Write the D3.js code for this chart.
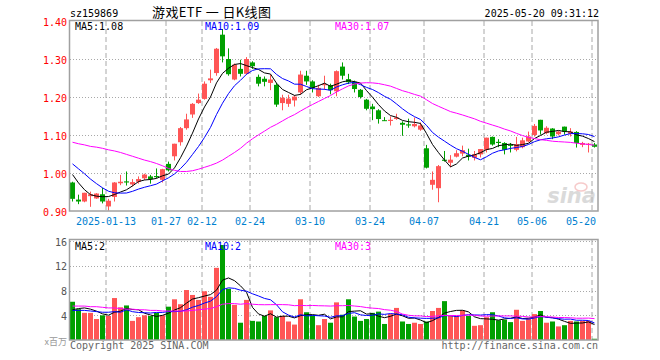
<!DOCTYPE html>
<html><head><meta charset="utf-8">
<script src="https://cdn.jsdelivr.net/npm/d3@7"></script>
<style>
body{margin:0;background:#fff}
svg{display:block}
text{font-family:"DejaVu Sans Mono",monospace;font-size:10px}
</style>
</head><body><svg id="c" width="660" height="360"></svg>
<script>
const dates = ["01-03","01-06","01-07","01-08","01-09","01-10","01-13","01-14","01-15","01-16","01-17","01-20","01-21","01-22","01-23","01-24","01-27",
"02-05","02-06","02-07","02-10","02-11","02-12","02-13","02-14","02-17","02-18","02-19","02-20","02-21","02-24","02-25","02-26","02-27","02-28",
"03-03","03-04","03-05","03-06","03-07","03-10","03-11","03-12","03-13","03-14","03-17","03-18","03-19","03-20","03-21","03-24","03-25","03-26","03-27","03-28","03-31",
"04-01","04-02","04-03","04-07","04-08","04-09","04-10","04-11","04-14","04-15","04-16","04-17","04-18","04-21","04-22","04-23","04-24","04-25","04-28","04-29","04-30",
"05-06","05-07","05-08","05-09","05-12","05-13","05-14","05-15","05-16","05-19","05-20"];

const open  = [.975,.930,.925,.939,.933,.944,.912,.937,.973,.978,.970,.977,.986,.991,.992,.982,1.024,
1.044,1.081,1.118,1.154,1.184,1.195,1.244,1.263,1.364,1.300,1.246,1.274,1.261,1.291,1.253,1.248,1.237,1.232,
1.184,1.182,1.191,1.212,1.256,1.241,1.202,1.231,1.231,1.215,1.280,1.247,1.240,1.219,1.193,1.175,1.165,1.139,1.137,1.142,1.132,
1.128,1.123,1.114,1.065,.969,.960,1.035,1.027,1.043,1.051,1.048,1.040,1.049,1.061,1.095,1.082,1.079,1.074,1.061,1.068,1.083,
1.100,1.140,1.105,1.117,1.102,1.122,1.103,1.108,1.074,1.075,1.075];
const high  = [.977,.943,.948,.951,.947,.961,.932,.976,.995,1.004,.984,.991,.998,.995,1.012,1.011,1.030,
1.077,1.121,1.156,1.184,1.209,1.241,1.272,1.329,1.379,1.328,1.288,1.298,1.305,1.294,1.259,1.254,1.259,1.237,
1.206,1.206,1.205,1.269,1.269,1.244,1.232,1.256,1.235,1.270,1.291,1.261,1.243,1.221,1.195,1.182,1.168,1.147,1.149,1.156,1.136,
1.143,1.146,1.133,1.074,1.004,1.021,1.058,1.047,1.060,1.072,1.064,1.058,1.063,1.093,1.096,1.089,1.081,1.079,1.095,1.093,1.109,
1.129,1.140,1.123,1.118,1.111,1.122,1.118,1.110,1.082,1.079,1.079];
const low   = [.925,.918,.923,.911,.932,.920,.901,.925,.968,.967,.965,.972,.982,.972,.986,.975,1.004,
1.033,1.072,1.114,1.145,1.182,1.193,1.237,1.256,1.291,1.256,1.244,1.254,1.259,1.274,1.228,1.228,1.218,1.174,
1.165,1.174,1.175,1.206,1.232,1.212,1.200,1.219,1.207,1.202,1.246,1.234,1.212,1.196,1.165,1.139,1.130,1.137,1.125,1.140,1.098,
1.119,1.120,1.111,1.012,.956,.923,1.030,1.015,1.041,1.044,1.033,1.033,1.041,1.054,1.072,1.068,1.049,1.054,1.057,1.065,1.081,
1.096,1.101,1.102,1.089,1.099,1.101,1.096,1.067,1.068,1.054,1.067];
const close = [.932,.925,.948,.944,.946,.925,.927,.975,.977,.975,.976,.984,.996,.984,.989,1.010,1.007,
1.077,1.118,1.141,1.182,1.193,1.235,1.249,1.327,1.307,1.260,1.285,1.261,1.300,1.281,1.235,1.240,1.246,1.180,
1.198,1.196,1.201,1.259,1.241,1.224,1.224,1.234,1.218,1.268,1.256,1.239,1.221,1.200,1.169,1.168,1.142,1.137,1.140,1.146,1.127,
1.125,1.129,1.125,1.014,.982,1.018,1.032,1.035,1.052,1.060,1.043,1.049,1.063,1.093,1.075,1.079,1.061,1.072,1.076,1.086,1.096,
1.124,1.112,1.119,1.096,1.109,1.109,1.109,1.079,1.079,1.077,1.069];
const volume = [6.2,5.0,4.4,4.4,3.4,4.0,3.9,6.8,5.3,5.6,3.1,3.7,4.0,3.9,4.4,4.0,5.4,
6.6,5.8,8.1,7.3,6.5,7.9,7.0,11.7,15.4,8.3,5.7,2.8,6.5,3.1,3.0,3.9,4.8,3.7,
3.9,3.0,2.5,6.6,4.5,4.0,2.4,3.4,2.8,6.1,4.1,6.6,3.8,3.1,3.4,4.4,4.6,2.6,4.2,5.2,3.0,
2.6,2.8,2.6,3.0,4.7,5.2,6.3,3.9,3.9,4.8,3.9,2.3,2.4,3.7,4.5,3.2,3.3,2.9,4.9,3.1,3.5,
4.2,4.7,2.8,3.0,2.2,2.4,3.1,3.0,3.1,3.1,0.2];

// moving-average values for the first days (earlier history is not shown)
const ma5Head  = [.996,.974,.956,.943];
const ma10Head = [1.024,1.011,.998,.984,.972,.961,.952,.948,.947];
const ma30Head = [1.081,1.077,1.074,1.070,1.068,1.065,1.061,1.058,1.054,1.049,1.044,1.039,1.034,1.030,1.025,1.019,1.012,1.007,1.004,1.004,1.006,1.010,1.015,1.020,1.026,1.034,1.044,1.054,1.065];
const vma5Head  = [4.9,5.1,5.2,5.0];
const vma10Head = [4.8,4.8,4.8,4.7,4.6,4.5,4.5,4.6,4.5];
const vma30Head = [5.5,5.5,5.5,5.4,5.4,5.3,5.2,5.2,5.1,5.0,5.0,4.9,4.9,4.8,4.8,4.7,4.7,4.7,4.7,4.7,4.8,4.9,5.0,5.1,5.4,5.8,5.9,5.9,5.8];

const tickDates  = ["01-13","01-27","02-12","02-24","03-10","03-24","04-07","04-21","05-06","05-20"];
const tickLabels = ["2025-01-13","01-27","02-12","02-24","03-10","03-24","04-07","04-21","05-06","05-20"];
const priceTicks = [0.90,1.00,1.10,1.20,1.30,1.40];
const volTicks   = [4,8,12,16];
const legendMain = ["MA5:1.08","MA10:1.09","MA30:1.07"];
const legendVol  = ["MA5:2","MA10:2","MA30:3"];
const code = "sz159869", title = "游戏ETF 一 日K线图", stamp = "2025-05-20 09:31:12";

const RED = "#ff5555", GREEN = "#00a000", GRID = "#a8a8a8", LINEC = ["#000000","#0000ff","#ff00ff"];
const L = 70, R = 598, PT = 21, PB = 211, VT = 240, VB = 340;

const svg = d3.select("#c");
const x = d3.scaleBand().domain(dates).range([L - 0.5, L - 0.5 + dates.length * 6]).padding(0);
const y = d3.scaleLinear().domain([0.9, 1.4]).range([PB, PT]);
const vy = d3.scaleLinear().domain([0, 16]).range([VB, 241.3]);
const cx = d => x(d) + 3;

function ma(vals, n, head) {
  return vals.map((v, i) => i >= n - 1 ? d3.mean(vals.slice(i - n + 1, i + 1)) : head[i]);
}

// header
svg.append("text").attr("x", 70).attr("y", 17).attr("fill", "#000").text(code);
svg.append("text").attr("x", 152).attr("y", 17).attr("fill", "#000")
  .style("font-family", "'Noto Sans CJK SC',sans-serif").style("font-size", "13px")
  .attr("textLength", 119).attr("lengthAdjust", "spacing").text(title);
svg.append("text").attr("x", 599).attr("y", 17).attr("text-anchor", "end").attr("fill", "#000").text(stamp);

function panel(top, bottom, yScale, ticks, tickFmt, tickColor) {
  const g = svg.append("g");
  // horizontal dotted grid
  g.selectAll(".hg").data(ticks.filter(t => yScale(t) > top + 1 && yScale(t) < bottom - 1)).enter()
    .append("line").attr("x1", L).attr("x2", R)
    .attr("y1", t => Math.round(yScale(t)) + 0.5).attr("y2", t => Math.round(yScale(t)) + 0.5)
    .attr("stroke", GRID).attr("stroke-dasharray", "1,2");
  // vertical dashed grid
  g.selectAll(".vg").data(tickDates).enter().append("line")
    .attr("x1", d => x(d) + 0.5).attr("x2", d => x(d) + 0.5)
    .attr("y1", top).attr("y2", bottom)
    .attr("stroke", GRID).attr("stroke-width", 1).attr("stroke-dasharray", "5,3");
  // labels
  g.selectAll(".yl").data(ticks).enter().append("text")
    .attr("x", 67).attr("y", t => Math.max(yScale(t), top) + 4.5)
    .attr("text-anchor", "end").attr("fill", tickColor).text(tickFmt);
  return g;
}

panel(PT, PB, y, priceTicks, d => d.toFixed(2), "#ff0000");
panel(VT, VB, vy, volTicks, d => d, "#555");

// x-axis labels
svg.selectAll(".xl").data(tickDates).enter().append("text")
  .attr("y", 225).attr("fill", "#0080d0")
  .each(function (d, i) {
    const t = d3.select(this).text(tickLabels[i]);
    const w = tickLabels[i].length * 6.02;
    let px = x(d) + 0.5;
    if (px + w / 2 > R - 2) t.attr("x", R - 2).attr("text-anchor", "end");
    else t.attr("x", px).attr("text-anchor", "middle");
  });

svg.append("text").attr("x", 67).attr("y", 345).attr("text-anchor", "end").attr("fill", "#999")
  .style("font-family", "'Noto Sans CJK SC',sans-serif").style("font-size", "9px").text("x百万");

// sina watermark
const wm = svg.append("g").attr("opacity", 0.55);
wm.append("text").attr("x", 596).attr("y", 203).attr("text-anchor", "end")
  .style("font-family", "'DejaVu Sans',sans-serif").style("font-size", "21px").style("font-weight", "bold")
  .style("font-style", "italic").attr("fill", "#bdbdbd").text("sina");
wm.append("ellipse").attr("cx", 581).attr("cy", 187).attr("rx", 6).attr("ry", 4).attr("fill", "none")
  .attr("stroke", "#f0a0a0").attr("stroke-width", 1.5);

// candles
const idx = d3.range(dates.length);
const cg = svg.append("g");
cg.selectAll(".wick").data(idx).enter().append("line")
  .attr("x1", i => cx(dates[i])).attr("x2", i => cx(dates[i]))
  .attr("y1", i => y(high[i])).attr("y2", i => y(low[i]))
  .attr("stroke", i => close[i] >= open[i] ? RED : GREEN);
cg.selectAll(".body").data(idx).enter().append("rect")
  .attr("x", i => x(dates[i]) + 0.5).attr("width", 5)
  .attr("y", i => y(Math.max(open[i], close[i])))
  .attr("height", i => Math.max(1, Math.abs(y(open[i]) - y(close[i]))))
  .attr("fill", i => close[i] >= open[i] ? RED : GREEN);

// volume bars
svg.append("g").selectAll("rect").data(idx).enter().append("rect")
  .attr("x", i => x(dates[i]) + 0.5).attr("width", 5)
  .attr("y", i => vy(volume[i])).attr("height", i => VB - vy(volume[i]))
  .attr("fill", i => close[i] >= open[i] ? RED : GREEN);

// moving averages
function drawMA(vals, scale) {
  const line = d3.line().x((d, i) => cx(dates[i])).y(d => scale(d));
  vals.forEach((s, k) => svg.append("path").attr("d", line(s)).attr("fill", "none")
    .attr("stroke", LINEC[k]).attr("stroke-width", 1));
}
drawMA([ma(close, 5, ma5Head), ma(close, 10, ma10Head), ma(close, 30, ma30Head)], y);
drawMA([ma(volume, 5, vma5Head), ma(volume, 10, vma10Head), ma(volume, 30, vma30Head)], vy);

// borders
[[PT, PB], [VT, VB]].forEach(([t, b]) => svg.append("rect").attr("x", L - 0.5).attr("y", t - 0.5)
  .attr("width", R - L + 0.5).attr("height", b - t + 0.5).attr("fill", "none")
  .attr("stroke", "#a0a0a0").attr("stroke-width", 1.5));

// legends
const lx = [75, 205, 335];
legendMain.forEach((s, k) => svg.append("text").attr("x", lx[k]).attr("y", 30).attr("fill", LINEC[k]).text(s));
legendVol.forEach((s, k) => svg.append("text").attr("x", lx[k]).attr("y", 249.5).attr("fill", LINEC[k]).text(s));

// footer
svg.append("text").attr("x", 70).attr("y", 349).attr("fill", "#666").text("Copyright 2025 SINA.COM");
svg.append("text").attr("x", 598).attr("y", 349).attr("text-anchor", "end").attr("fill", "#666").text("http://finance.sina.com.cn");
</script>
</body></html>
